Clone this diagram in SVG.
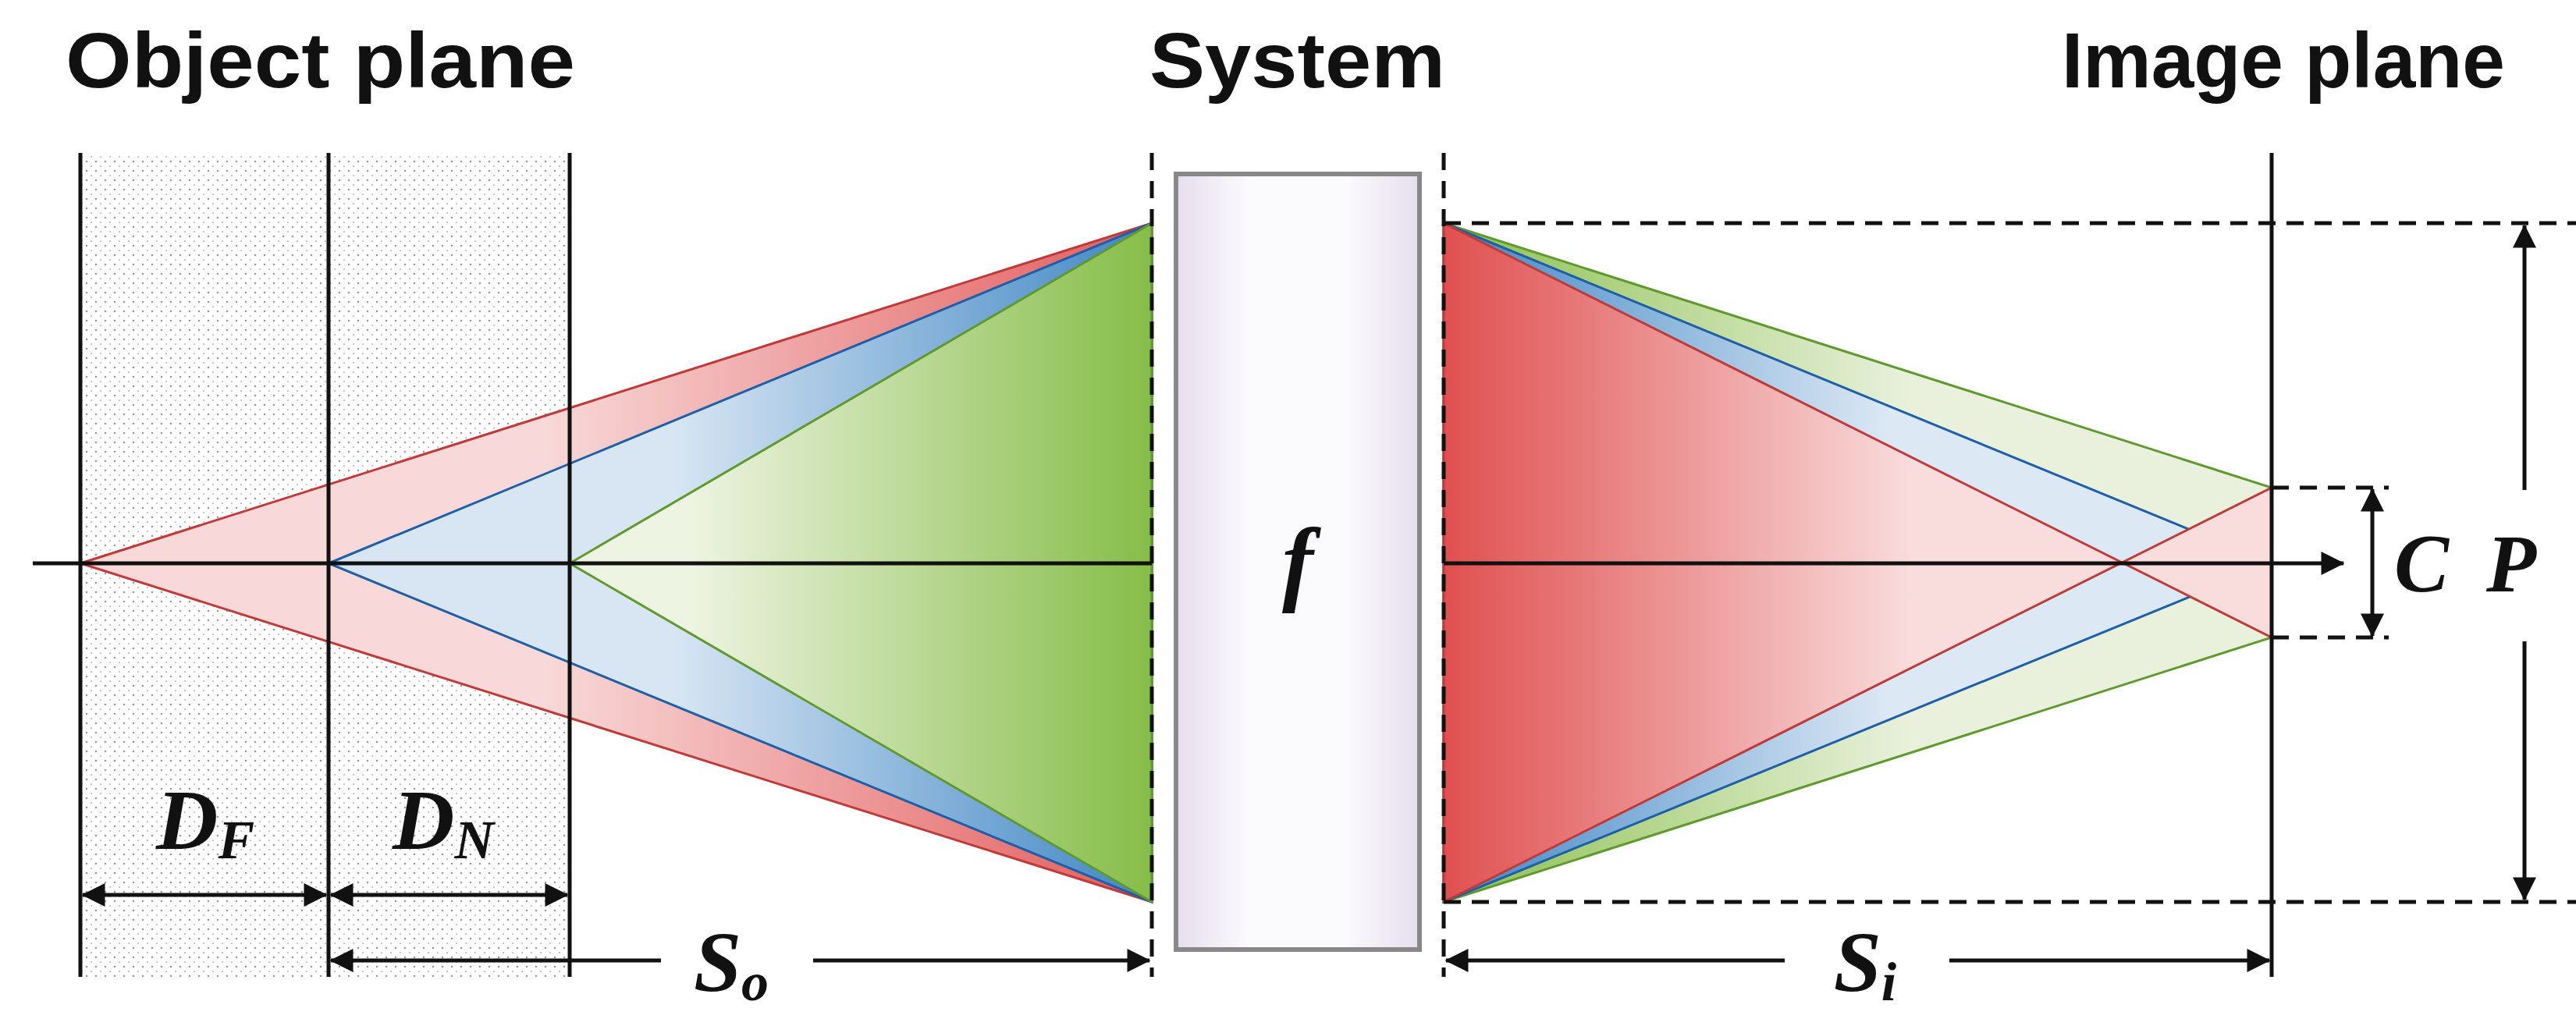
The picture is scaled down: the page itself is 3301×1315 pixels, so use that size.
<svg xmlns="http://www.w3.org/2000/svg" width="3301" height="1315" viewBox="0 0 3301 1315">
<style>
.ln{stroke:#111;stroke-width:5;fill:none}
.ds{stroke:#111;stroke-width:5;fill:none;stroke-dasharray:22 14}
.ttl{font-family:"Liberation Sans",Arial,sans-serif;font-weight:bold;font-size:100px;fill:#111}
.lb{font-family:"Liberation Serif","Times New Roman",serif;font-weight:bold;font-style:italic;fill:#111}
</style>
<defs>
<pattern id="dots" width="12" height="12" patternUnits="userSpaceOnUse"><circle cx="3" cy="3" r="1.3" fill="#999"/><circle cx="9" cy="9" r="1.1" fill="#bbb"/></pattern>
<marker id="ah" viewBox="0 0 10 10" refX="9" refY="5" markerWidth="6" markerHeight="6" markerUnits="userSpaceOnUse" orient="auto-start-reverse"><path d="M0,0 L10,5 L0,10 z" fill="#111"/></marker>
<marker id="a" viewBox="0 0 10 10" refX="9.5" refY="5" markerWidth="7" markerHeight="6" orient="auto-start-reverse"><path d="M0,0 L10,5 L0,10 z" fill="#111"/></marker>
<linearGradient id="lr" gradientUnits="userSpaceOnUse" x1="700" y1="0" x2="1476" y2="0"><stop offset="0" stop-color="#f8d8d8"/><stop offset="1" stop-color="#e25c5c"/></linearGradient>
<linearGradient id="lb" gradientUnits="userSpaceOnUse" x1="860" y1="0" x2="1476" y2="0"><stop offset="0" stop-color="#d8e6f3"/><stop offset="1" stop-color="#3f86c4"/></linearGradient>
<linearGradient id="lg" gradientUnits="userSpaceOnUse" x1="880" y1="0" x2="1476" y2="0"><stop offset="0" stop-color="#eef4e2"/><stop offset="1" stop-color="#86bd48"/></linearGradient>
<linearGradient id="rr" gradientUnits="userSpaceOnUse" x1="1850" y1="0" x2="2450" y2="0"><stop offset="0" stop-color="#e05050"/><stop offset="1" stop-color="#f9dcdc"/></linearGradient>
<linearGradient id="rb" gradientUnits="userSpaceOnUse" x1="1850" y1="0" x2="2420" y2="0"><stop offset="0" stop-color="#3f86c4"/><stop offset="1" stop-color="#dce8f4"/></linearGradient>
<linearGradient id="rg" gradientUnits="userSpaceOnUse" x1="1850" y1="0" x2="2450" y2="0"><stop offset="0" stop-color="#8cc04f"/><stop offset="1" stop-color="#e9f1dc"/></linearGradient>
<linearGradient id="lens" x1="0" y1="0" x2="1" y2="0"><stop offset="0" stop-color="#e6deee"/><stop offset="0.3" stop-color="#fbfafd"/><stop offset="0.7" stop-color="#fbfafd"/><stop offset="1" stop-color="#e6deee"/></linearGradient>
</defs>

<g id="titles">
<text class="ttl" x="84" y="112" textLength="653" lengthAdjust="spacingAndGlyphs">Object plane</text>
<text class="ttl" x="1473" y="112" textLength="379" lengthAdjust="spacingAndGlyphs">System</text>
<text class="ttl" x="2642" y="112" textLength="568" lengthAdjust="spacingAndGlyphs">Image plane</text>
</g>

<g id="object-region">
<rect x="103" y="196" width="627" height="1056" fill="url(#dots)"/>
</g>

<g id="object-cones">
<polygon points="103,722 1476,286 1476,1156" fill="url(#lr)" stroke="#c03a3a" stroke-width="3"/>
<polygon points="421,722 1476,286 1476,1156" fill="url(#lb)" stroke="#1f5fa8" stroke-width="3"/>
<polygon points="730,722 1476,286 1476,1156" fill="url(#lg)" stroke="#5f9a2e" stroke-width="3"/>
</g>

<g id="image-cones">
<polygon points="1850,286 2911,625 2911,817 1850,1156" fill="url(#rg)" stroke="#5f9a2e" stroke-width="3"/>
<polygon points="1850,286 2911,722 1850,1156" fill="url(#rb)" stroke="#1f5fa8" stroke-width="3"/>
<polygon points="1850,286 2911,817 2911,625 1850,1156" fill="url(#rr)" stroke="#c03a3a" stroke-width="3"/>
</g>

<g id="lens-node">
<rect x="1507" y="223" width="312" height="994" fill="url(#lens)" stroke="#888" stroke-width="6"/>
<text class="lb" x="1663" y="760" font-size="120" text-anchor="middle">f</text>
</g>

<g id="connectors">
<line class="ln" x1="103" y1="196" x2="103" y2="1252"/>
<line class="ln" x1="421" y1="196" x2="421" y2="1252"/>
<line class="ln" x1="730" y1="196" x2="730" y2="1252"/>
<line class="ds" x1="1476" y1="196" x2="1476" y2="1252"/>
<line class="ds" x1="1850" y1="196" x2="1850" y2="1252"/>
<line class="ln" x1="2911" y1="196" x2="2911" y2="1252"/>
<line class="ln" x1="42" y1="722" x2="1476" y2="722"/>
<line class="ln" x1="1850" y1="722" x2="3003" y2="722" marker-end="url(#a)"/>
<line class="ds" x1="1850" y1="286" x2="3301" y2="286"/>
<line class="ds" x1="1850" y1="1156" x2="3301" y2="1156"/>
<line class="ds" x1="2911" y1="625" x2="3061" y2="625"/>
<line class="ds" x1="2911" y1="817" x2="3061" y2="817"/>
<line class="ln" x1="3040" y1="627" x2="3040" y2="815" marker-start="url(#a)" marker-end="url(#a)"/>
<line class="ln" x1="3235" y1="289" x2="3235" y2="628" marker-start="url(#a)"/>
<line class="ln" x1="3235" y1="822" x2="3235" y2="1153" marker-end="url(#a)"/>
<line class="ln" x1="106" y1="1147" x2="418" y2="1147" marker-start="url(#a)" marker-end="url(#a)"/>
<line class="ln" x1="424" y1="1147" x2="727" y2="1147" marker-start="url(#a)" marker-end="url(#a)"/>
<line class="ln" x1="424" y1="1231" x2="847" y2="1231" marker-start="url(#a)"/>
<line class="ln" x1="1042" y1="1231" x2="1473" y2="1231" marker-end="url(#a)"/>
<line class="ln" x1="1853" y1="1231" x2="2287" y2="1231" marker-start="url(#a)"/>
<line class="ln" x1="2498" y1="1231" x2="2908" y2="1231" marker-end="url(#a)"/>
</g>

<g id="labels">
<text class="lb" x="263" y="1088" font-size="110" text-anchor="middle">D<tspan font-size="70" dy="12">F</tspan></text>
<text class="lb" x="568" y="1088" font-size="110" text-anchor="middle">D<tspan font-size="70" dy="12">N</tspan></text>
<text class="lb" x="937" y="1270" font-size="110" text-anchor="middle">S<tspan font-size="70" dy="12">o</tspan></text>
<text class="lb" x="2390" y="1270" font-size="110" text-anchor="middle">S<tspan font-size="70" dy="12">i</tspan></text>
<text class="lb" x="3103" y="758" font-size="105" text-anchor="middle">C</text>
<text class="lb" x="3218" y="758" font-size="105" text-anchor="middle">P</text>
</g>
</svg>
